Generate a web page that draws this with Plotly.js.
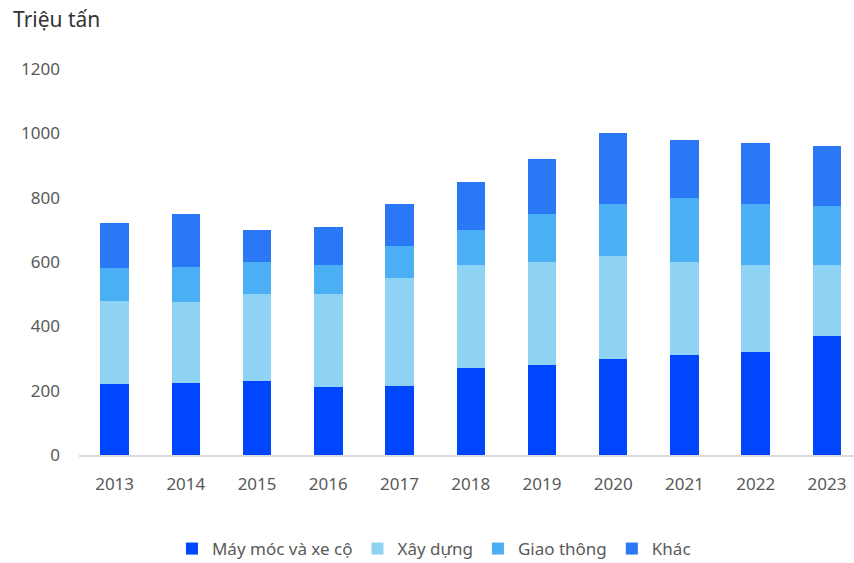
<!DOCTYPE html>
<html>
<head>
<meta charset="utf-8">
<script src="https://cdn.plot.ly/plotly-3.0.1.min.js"></script>
<style>html,body{margin:0;padding:0;background:#fff;}#chart{width:854px;height:563px;}</style>
</head>
<body>
<div id="chart"></div>
<script>
const years = ["2013","2014","2015","2016","2017","2018","2019","2020","2021","2022","2023"];
const mayMoc = [220, 225, 230, 210, 215, 270, 280, 300, 310, 320, 370];
const xayDung = [260, 250, 270, 290, 335, 320, 320, 320, 290, 270, 220];
const giaoThong = [100, 110, 100, 90, 100, 110, 150, 160, 200, 190, 185];
const khac = [140, 165, 100, 120, 130, 150, 170, 220, 180, 190, 185];
const seriesNames = ["Máy móc và xe cộ", "Xây dựng", "Giao thông", "Khác"];
const seriesColors = ["#0046FF", "#8ED3F4", "#4AAFF5", "#2A78F5"];
const yTicks = [0, 200, 400, 600, 800, 1000, 1200];

const allSeries = [mayMoc, xayDung, giaoThong, khac];
const traces = allSeries.map((vals, i) => ({
  type: "bar",
  x: years,
  y: vals,
  name: seriesNames[i],
  marker: {color: seriesColors[i], line: {width: 0}},
  hoverinfo: "x+y+name"
}));

const layout = {
  width: 854,
  height: 563,
  barmode: "stack",
  bargap: 0.6,
  paper_bgcolor: "#ffffff",
  plot_bgcolor: "#ffffff",
  font: {family: "Noto Sans, Open Sans, sans-serif", color: "#595959", size: 17},
  margin: {l: 79, r: 0, t: 69, b: 108},
  showlegend: true,
  legend: {
    orientation: "h",
    xref: "paper",
    x: 0.458, xanchor: "center",
    yref: "container",
    y: 14/563, yanchor: "middle",
    font: {size: 17, color: "#595959"},
    itemwidth: 30,
    traceorder: "normal"
  },
  xaxis: {
    type: "category",
    range: [-0.5, 10.38],
    automargin: false,
    showline: true,
    linecolor: "#d9d9d9",
    linewidth: 2,
    showgrid: false,
    ticks: "",
    ticklabelstandoff: 13,
    tickfont: {size: 17, color: "#595959"},
    zeroline: false,
    fixedrange: true
  },
  yaxis: {
    range: [0, 1200],
    automargin: false,
    tickvals: yTicks,
    ticktext: yTicks.map(String),
    showgrid: false,
    zeroline: false,
    showline: false,
    ticks: "",
    ticklabelstandoff: 18,
    tickfont: {size: 17, color: "#595959"},
    fixedrange: true
  },
  annotations: [{
    text: "Triệu tấn",
    xref: "paper", yref: "paper",
    x: -79/775, y: 1 + 50/386,
    xanchor: "left", yanchor: "middle",
    showarrow: false,
    xshift: 11,
    font: {size: 21, color: "#333333"}
  }]
};

Plotly.newPlot("chart", traces, layout, {displayModeBar: false, staticPlot: true});
</script>
</body>
</html>
